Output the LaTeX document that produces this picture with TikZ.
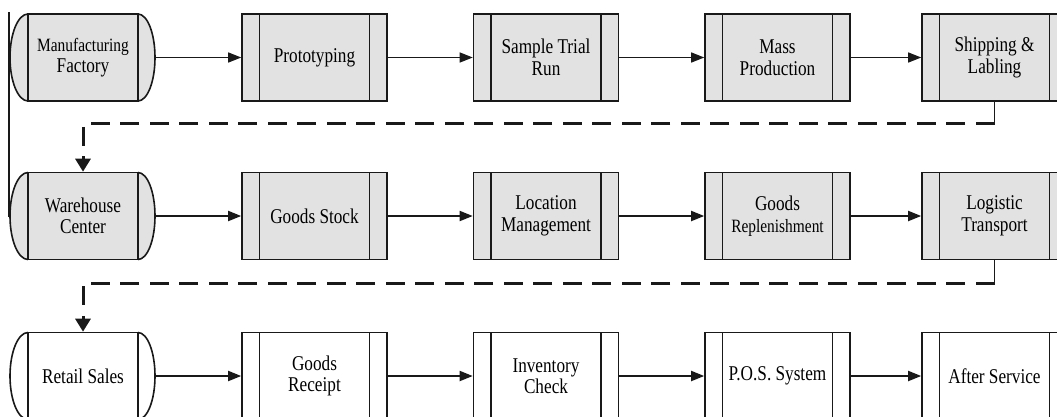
\documentclass[tikz,border=0pt]{standalone}
\usepackage{fontspec}
\setmainfont{Liberation Serif}[FakeStretch=0.82]
\usetikzlibrary{arrows.meta,calc}
\definecolor{boxgrey}{RGB}{226,226,226}
\definecolor{ink}{RGB}{25,25,25}
\newcommand{\smallsize}{\fontsize{18.8}{21}\selectfont}
\begin{document}
\begin{tikzpicture}[x=1pt,y=-1pt,
  every node/.style={font=\fontsize{21}{21.5}\selectfont, text=black, align=center},
  procbox/.style={draw=ink, line width=1.6pt, rectangle, minimum width=145pt, minimum height=87pt,
    inner sep=0pt,
    path picture={
      \draw[ink, line width=1.6pt]
        ([xshift=17.5pt]path picture bounding box.north west) -- ([xshift=17.5pt]path picture bounding box.south west)
        ([xshift=-17.5pt]path picture bounding box.north east) -- ([xshift=-17.5pt]path picture bounding box.south east);
    }},
  termbox/.style={draw=ink, line width=1.6pt, rectangle, minimum width=110pt, minimum height=87pt, inner sep=0pt},
  grey/.style={fill=boxgrey},
  plain/.style={fill=white},
  flow/.style={draw=ink, line width=#1, -{Triangle[length=13pt,width=10pt]}},
  flow/.default=1.8pt,
  stubline/.style={draw=ink, line width=1.8pt},
  dashlink/.style={draw=ink, line width=3pt, dash pattern=on 19pt off 10.5pt,
    -{Triangle[length=13pt,width=15pt]}},
]
\useasboundingbox (0,0) rectangle (1057,416);
\clip (0,0) rectangle (1057,416);

% thin border on the left
\draw[ink, line width=1.2pt] (9,12) -- (9,217);

% terminator caps (drawn before the boxes so the box edges stay on top)
\foreach \cy/\fillc in {57.5/boxgrey, 216/boxgrey, 376/white}{
  \draw[ink, line width=1.6pt, fill=\fillc] (28,\cy-43.5) arc[start angle=90, end angle=270, x radius=18pt, y radius=43.5pt];
  \draw[ink, line width=1.6pt, fill=\fillc] (138,\cy-43.5) arc[start angle=90, end angle=-90, x radius=17pt, y radius=43.5pt];
}

% row 1: manufacturing
\node[termbox, grey] (m0) at (83,57.5) {{\smallsize Manufacturing}\\Factory};
\node[procbox, grey] (m1) at (314.5,57.5) {Prototyping};
\node[procbox, grey] (m2) at (546,57.5) {Sample Trial\\Run};
\node[procbox, grey] (m3) at (777.5,57.5) {Mass\\Production};
\node[procbox, grey] (m4) at (994.5,57.5) {Shipping \&\\Labling};

% row 2: warehouse
\node[termbox, grey] (w0) at (83,216) {Warehouse\\Center};
\node[procbox, grey] (w1) at (314.5,216) {Goods Stock};
\node[procbox, grey] (w2) at (546,216) {Location\\Management};
\node[procbox, grey] (w3) at (777.5,216) {Goods\\{\smallsize Replenishment}};
\node[procbox, grey] (w4) at (994.5,216) {Logistic\\Transport};

% row 3: retail
\node[termbox, plain] (r0) at (83,376) {Retail Sales};
\node[procbox, plain] (r1) at (314.5,376) {Goods\\Receipt};
\node[procbox, plain] (r2) at (546,376) {Inventory\\Check};
\node[procbox, plain] (r3) at (777.5,376) {P.O.S. System};
\node[procbox, plain] (r4) at (994.5,376) {After Service};

% solid flow arrows within each row
\draw[flow=1.3pt] ($(m0.east)+(17,0)$) -- (m1.west);
\draw[flow=1.3pt] (m1) -- (m2);
\draw[flow=1.3pt] (m2) -- (m3);
\draw[flow=1.3pt] (m3) -- (m4);

\draw[flow] ($(w0.east)+(17,0)$) -- (w1.west);
\draw[flow] (w1) -- (w2);
\draw[flow] (w2) -- (w3);
\draw[flow] (w3) -- (w4);

\draw[flow] ($(r0.east)+(17,0)$) -- (r1.west);
\draw[flow] (r1) -- (r2);
\draw[flow] (r2) -- (r3);
\draw[flow] (r3) -- (r4);

% dashed hand-over links between rows
\coordinate (k1) at ($(m4.south)+(0,22)$);
\draw[stubline] (m4.south) -- (k1);
\draw[dashlink] (k1) -| (w0.north);

\coordinate (k2) at ($(w4.south)+(0,23)$);
\draw[stubline] (w4.south) -- (k2);
\draw[dashlink] (k2) -| (r0.north);
\end{tikzpicture}
\end{document}
